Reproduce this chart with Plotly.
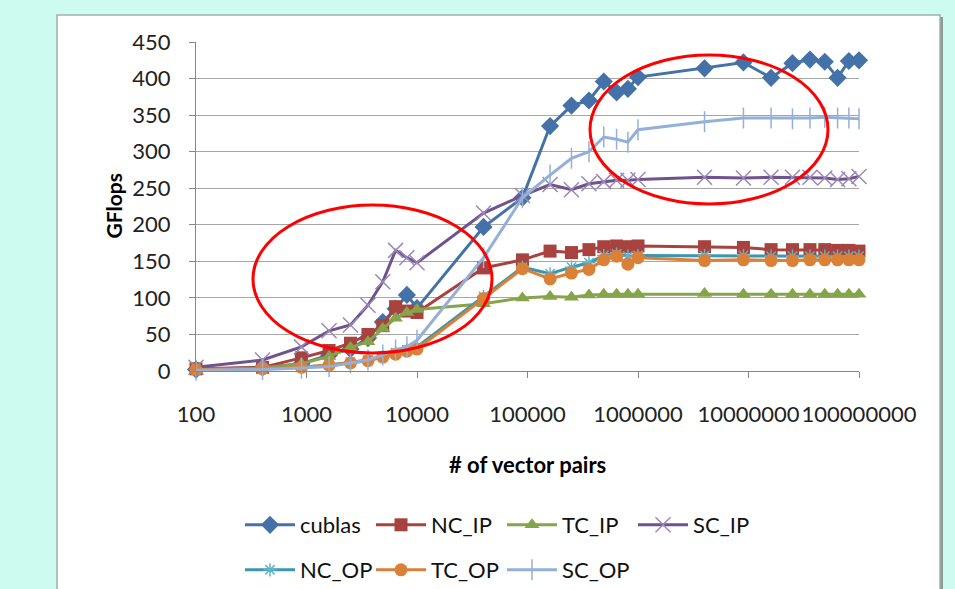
import plotly.graph_objects as go

# ---------------- data ----------------
vector_pairs = [100, 400, 900, 1600, 2500, 3600, 4900, 6400, 8100, 10000,
                40000, 90000, 160000, 250000, 360000, 490000, 640000, 810000,
                1000000, 4000000, 9000000, 16000000, 25000000, 36000000,
                49000000, 64000000, 81000000, 100000000]

cublas = [2, 5, 10, 22, 30, 45, 67, 85, 104, 86, 197, 237, 335, 363, 370, 396,
          381, 386, 402, 414, 422, 401, 421, 426, 423, 401, 424, 425]
nc_ip = [3, 5, 18, 28, 38, 50, 62, 88, 82, 80, 141, 152, 164, 162, 166, 170,
         171, 170, 171, 170, 169, 166, 166, 166, 166, 165, 165, 164]
tc_ip = [2, 4, 10, 20, 32, 40, 58, 72, 80, 84, 92, 100, 102, 101, 104, 105,
         105, 105, 105, 106, 105, 105, 105, 105, 105, 105, 105, 105]
sc_ip = [5, 15, 33, 55, 63, 90, 122, 165, 155, 148, 216, 240, 255, 248, 256,
         259, 261, 261, 262, 265, 264, 265, 265, 265, 264, 262, 263, 266]
nc_op = [2, 3, 5, 8, 12, 15, 20, 25, 29, 33, 102, 142, 133, 142, 148, 158,
         160, 157, 158, 158, 158, 157, 157, 157, 157, 157, 157, 157]
tc_op = [2, 3, 5, 8, 11, 14, 19, 23, 27, 30, 99, 140, 126, 134, 139, 152,
         157, 146, 155, 151, 152, 151, 151, 152, 152, 152, 152, 152]
sc_op = [1, 2, 4, 6, 11, 15, 22, 29, 33, 42, 155, 237, 268, 291, 300, 320,
         317, 313, 330, 341, 346, 346, 345, 346, 347, 346, 346, 345]

series_names = ["cublas", "NC_IP", "TC_IP", "SC_IP", "NC_OP", "TC_OP", "SC_OP"]
series_values = [cublas, nc_ip, tc_ip, sc_ip, nc_op, tc_op, sc_op]

x_tick_vals = [100, 1000, 10000, 100000, 1000000, 10000000, 100000000]
x_tick_text = ["100", "1000", "10000", "100000", "1000000", "10000000", "100000000"]

# ---------------- styles ----------------
styles = [
    dict(color="#4472A8", symbol="diamond", size=14, mline=0, mcolor="#4472A8"),
    dict(color="#A8423F", symbol="square", size=13, mline=0, mcolor="#A8423F"),
    dict(color="#86A44A", symbol="triangle-up", size=13, mline=0, mcolor="#86A44A"),
    dict(color="#6E548D", symbol="x-thin-open", size=15, mline=1.5, mcolor="#9C88B8"),
    dict(color="#3D96AE", symbol="asterisk-open", size=11, mline=1.5, mcolor="#5DB4CC"),
    dict(color="#DA8137", symbol="circle", size=13, mline=0, mcolor="#DA8137"),
    dict(color="#95B0D8", symbol="line-ns-open", size=15, mline=1.5, mcolor="#95B0D8"),
]

FONT = "Lato"

fig = go.Figure()
for i, (name, vals, st) in enumerate(zip(series_names, series_values, styles)):
    fig.add_trace(go.Scatter(
        x=vector_pairs, y=vals, name=name, mode="lines+markers",
        line=dict(color=st["color"], width=3),
        marker=dict(symbol=st["symbol"], size=st["size"], color=st["mcolor"],
                    line=dict(width=st["mline"], color=st["mcolor"])),
        cliponaxis=False,
        legend="legend" if i < 4 else "legend2",
    ))

# plot area in pixels: x 196..859, y 42..371
L, R, T, B = 196, 859, 42, 371
W, H = 955, 589

def px(xp):
    return (xp - L) / (R - L)

def py(yp):
    return (B - yp) / (B - T)

shapes = [
    # chart box shadow
    dict(type="rect", xref="paper", yref="paper", layer="below",
         x0=px(59), x1=px(943), y0=py(640), y1=py(17),
         fillcolor="#8E9A96", line=dict(width=0)),
    # chart box
    dict(type="rect", xref="paper", yref="paper", layer="below",
         x0=px(57), x1=px(940), y0=py(640), y1=py(15),
         fillcolor="white", line=dict(color="#9DB3AC", width=1.5)),
    # red ellipses
    dict(type="circle", xref="paper", yref="paper",
         x0=px(253), x1=px(492), y0=py(353), y1=py(205),
         line=dict(color="#FF0000", width=3)),
    dict(type="circle", xref="paper", yref="paper",
         x0=px(590), x1=px(828), y0=py(204), y1=py(55),
         line=dict(color="#FF0000", width=3)),
]

annotations = [
    dict(text="<b>GFlops</b>", textangle=-90, xref="paper", yref="paper",
         x=px(113), y=0.5, showarrow=False, xanchor="center", yanchor="middle",
         font=dict(family=FONT, size=21, color="#000")),
    dict(text="<b># of vector pairs</b>", xref="paper", yref="paper",
         x=0.5, y=py(464), showarrow=False, xanchor="center", yanchor="middle",
         font=dict(family=FONT, size=22, color="#000")),
]

legend_common = dict(
    orientation="h", xref="container", yref="container",
    xanchor="left", yanchor="middle",
    font=dict(family=FONT, size=22, color="#111"),
    bgcolor="rgba(0,0,0,0)", itemwidth=50, entrywidth=66,
    entrywidthmode="pixels", tracegroupgap=0, traceorder="normal",
)

fig.update_layout(
    width=W, height=H, autosize=False,
    margin=dict(l=L, r=W - R, t=T, b=H - B, pad=0),
    paper_bgcolor="#CDFBEF", plot_bgcolor="white",
    font=dict(family=FONT, size=22, color="#222"),
    showlegend=True,
    legend=dict(legend_common, x=240 / W, y=1 - 525 / H),
    legend2=dict(legend_common, x=240 / W, y=1 - 570 / H),
    shapes=shapes, annotations=annotations,
    xaxis=dict(type="log", range=[2, 8], tickvals=x_tick_vals, ticktext=x_tick_text,
               tickangle=0, showgrid=False, zeroline=False, showline=True,
               linecolor="#868686", linewidth=1.2, ticks="outside", ticklen=6,
               tickcolor="#868686", ticklabelstandoff=17,
               tickfont=dict(family=FONT, size=22, color="#222")),
    yaxis=dict(range=[0, 450], dtick=50, tick0=0, showgrid=True,
               gridcolor="#A6A6A6", gridwidth=1.2, zeroline=False, showline=True,
               linecolor="#868686", linewidth=1.2, ticks="outside", ticklen=6,
               tickcolor="#868686", ticklabelstandoff=14,
               tickfont=dict(family=FONT, size=22, color="#222")),
)

fig.write_html("out.html")
